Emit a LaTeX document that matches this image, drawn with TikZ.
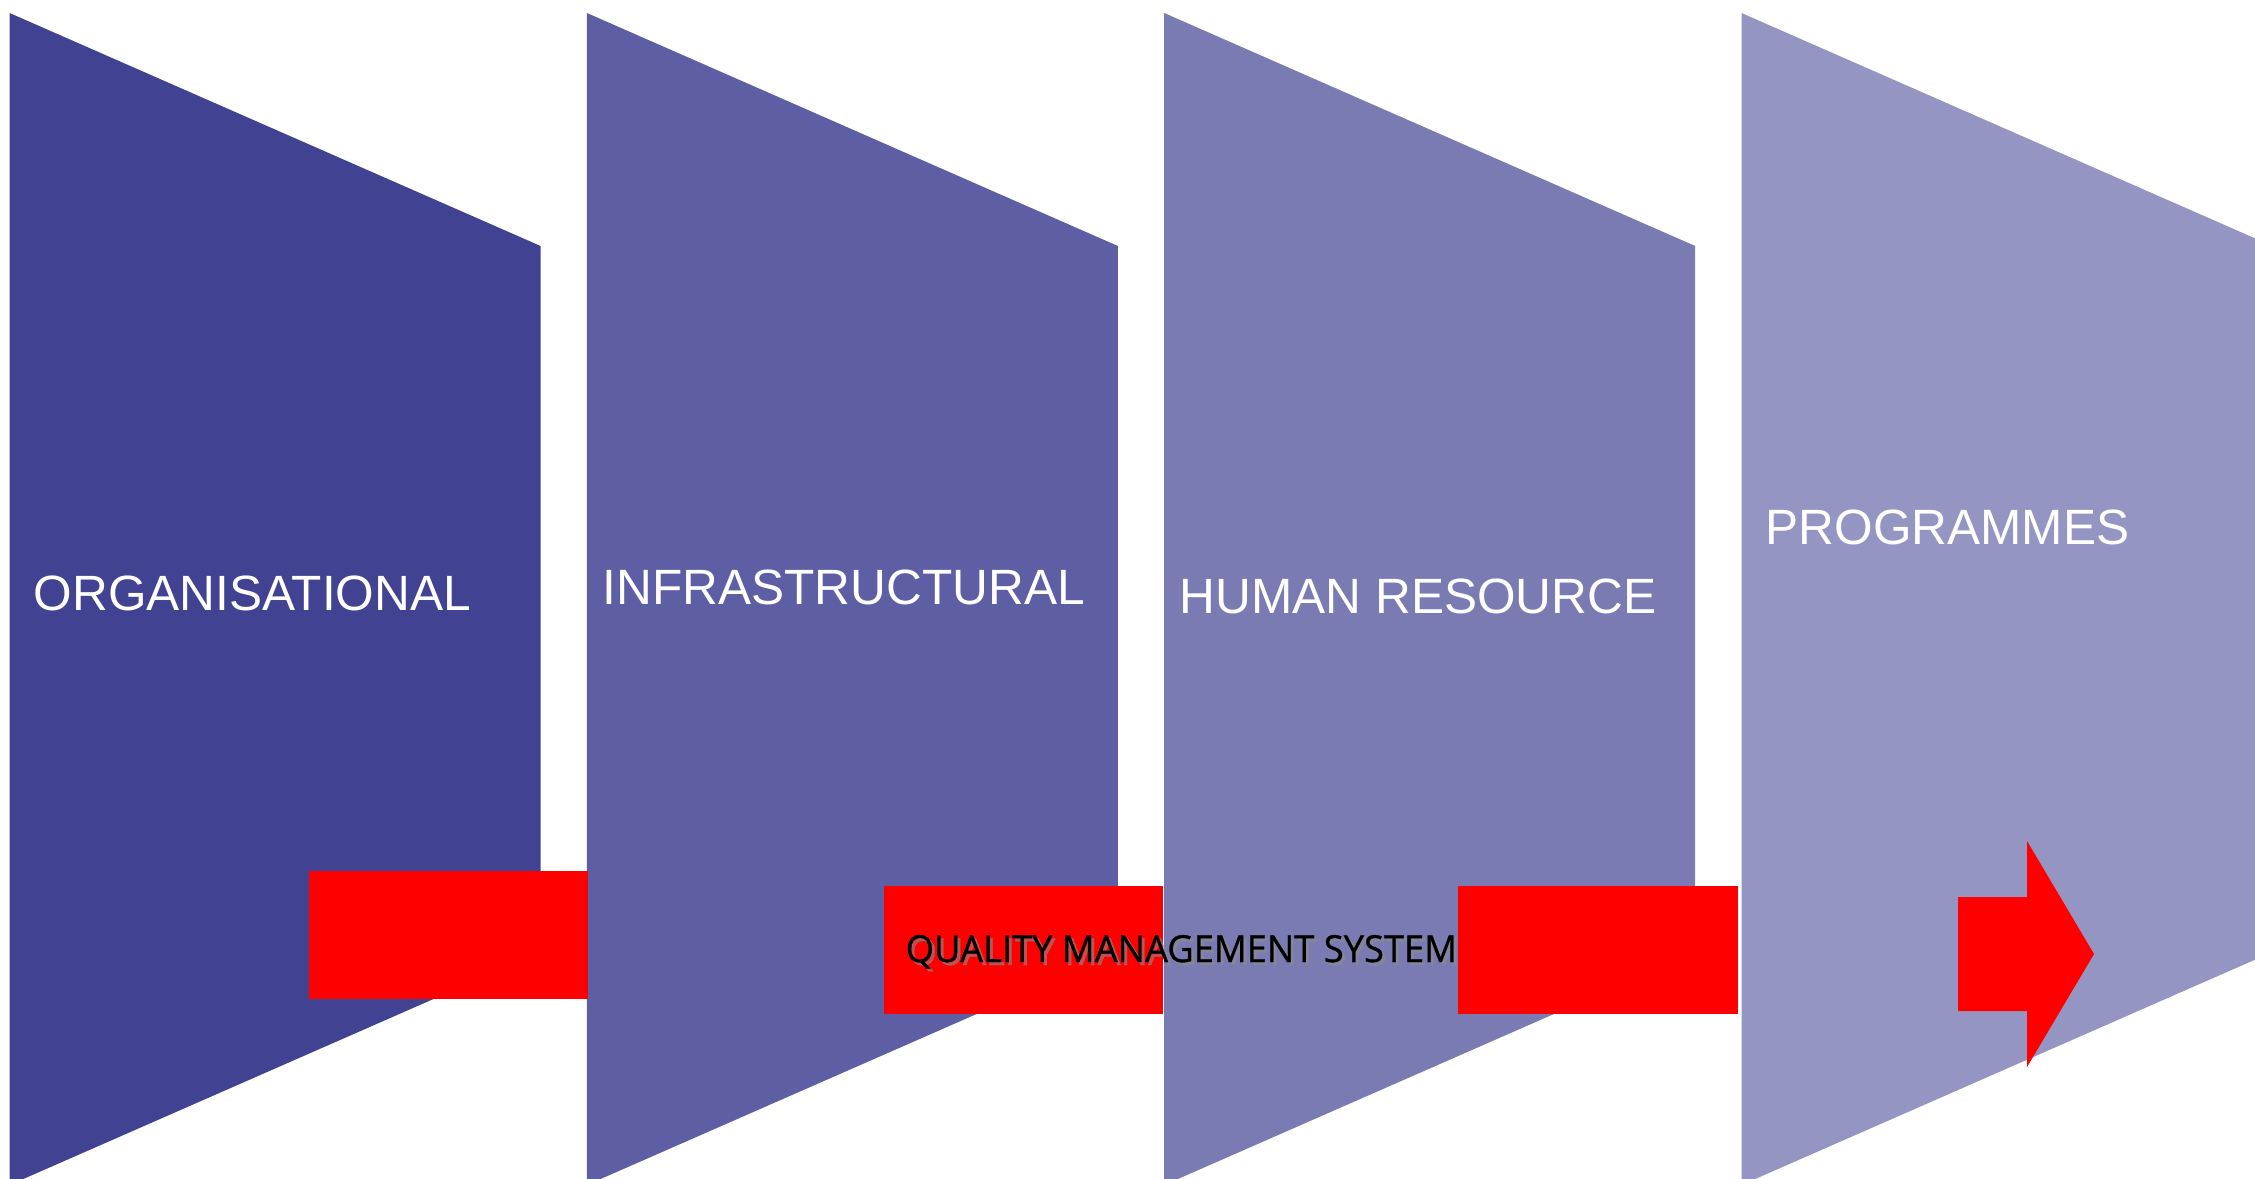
\documentclass[tikz,border=0pt]{standalone}
\usepackage{fontspec}
\usepackage{graphicx}
\setmainfont{Liberation Sans}
\newfontfamily\qmsfont[FakeBold=0.8]{Open Sans}
\definecolor{bandA}{RGB}{65,66,146}
\definecolor{bandB}{RGB}{94,94,165}
\definecolor{bandC}{RGB}{123,123,179}
\definecolor{bandD}{RGB}{149,149,195}
\definecolor{qred}{RGB}{255,0,0}
\tikzset{
  band/.style={fill=#1, draw=none},
  redbox/.style={fill=qred, draw=none},
  label/.style={anchor=base west, inner sep=0pt, text=white,
    font=\fontsize{14.1pt}{17pt}\selectfont},
  qmslabel/.style={anchor=base west, inner sep=0pt, text=black}
}
\begin{document}
\begin{tikzpicture}[x=0.01cm,y=-0.01cm]
\useasboundingbox (0,0) rectangle (2255,1178);
\clip (0,0) rectangle (2255,1178);
% bands
\foreach \i/\c in {0/bandA,1/bandB,2/bandC,3/bandD}{
  \pgfmathsetmacro{\xl}{9.6+577.3*\i}
  \pgfmathsetmacro{\xr}{\xl+531}
  \fill[band=\c] (\xl,13) -- (\xr,246) -- (\xr,952) -- (\xl,1185) -- cycle;
}
% red boxes
\fill[redbox] (309,871) rectangle (588,999);
\fill[redbox] (884,886) rectangle (1163,1014);
\fill[redbox] (1458,886) rectangle (1738,1014);
% red arrow
\fill[redbox] (1958,897) -- (2027,897) -- (2027,841) -- (2094,954) -- (2027,1067) -- (2027,1011) -- (1958,1011) -- cycle;
% labels
\node[label] (org) at (33,610) {ORGANISATIONAL};
\node[label] (inf) at (602,604) {INFRASTRUCTURAL};
\node[label] (hum) at (1179,613) {HUMAN RESOURCE};
\node[label] (prg) at (1765,544) {PROGRAMMES};
\node[qmslabel, text=black!45, text opacity=0.6] (qmsshadow) at (908,965) {\resizebox{5.51cm}{0.27cm}{\qmsfont QUALITY MANAGEMENT SYSTEM}};
\node[qmslabel] (qms) at (905,962) {\resizebox{5.51cm}{0.27cm}{\qmsfont QUALITY MANAGEMENT SYSTEM}};
\end{tikzpicture}
\end{document}
